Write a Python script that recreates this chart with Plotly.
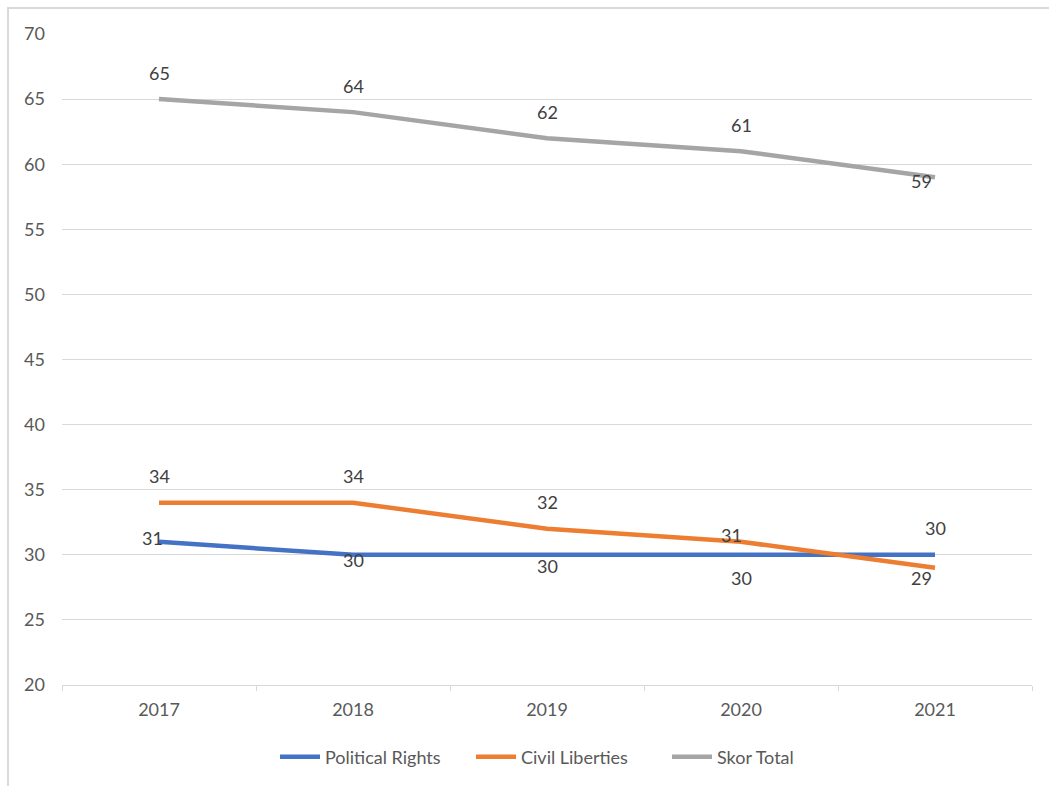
import plotly.graph_objects as go

years = ["2017", "2018", "2019", "2020", "2021"]
political_rights = [31, 30, 30, 30, 30]
civil_liberties = [34, 34, 32, 31, 29]
skor_total = [65, 64, 62, 61, 59]

# label offsets (pixels) per point: (xshift, yshift)
pr_shift = [(-7, 4), (0, -5), (0, -11), (0, -23), (0, 27)]
cl_shift = [(0, 27), (0, 27), (0, 27), (-10, 7), (-14, -10)]
st_shift = [(0, 26), (0, 26), (0, 26), (0, 26), (-14, -4)]

series = [
    ("Political Rights", political_rights, "#4472C4", pr_shift),
    ("Civil Liberties", civil_liberties, "#ED7D31", cl_shift),
    ("Skor Total", skor_total, "#A5A5A5", st_shift),
]

font_family = "Lato, 'Open Sans', sans-serif"
fig = go.Figure()
annotations = []
for name, vals, color, shifts in series:
    fig.add_trace(go.Scatter(
        x=years, y=vals, name=name, mode="lines",
        line=dict(color=color, width=4.5),
    ))
    for i, (v, (dx, dy)) in enumerate(zip(vals, shifts)):
        annotations.append(dict(
            x=i, y=v, xref="x", yref="y", text=str(v), showarrow=False,
            xshift=dx, yshift=dy,
            font=dict(family=font_family, size=18, color="#404040"),
        ))

fig.update_layout(
    width=1049, height=786,
    margin=dict(l=62, r=17, t=34, b=100),
    paper_bgcolor="white", plot_bgcolor="white",
    font=dict(family=font_family, size=18, color="#595959"),
    annotations=annotations,
    showlegend=True,
    legend=dict(orientation="h", x=(275 - 62) / 970, xanchor="left", y=-0.109, yanchor="middle",
                font=dict(size=18, color="#595959"), itemwidth=40,
                entrywidth=141, entrywidthmode="pixels"),
    xaxis=dict(
        type="category", range=[-0.5, 4.5],
        showgrid=False, showline=True, linecolor="#d9d9d9", linewidth=1,
        ticks="outside", tickson="boundaries", ticklen=5, tickcolor="#d9d9d9",
        ticklabelstandoff=8, tickfont=dict(size=18, color="#595959"),
    ),
    yaxis=dict(
        range=[20, 70], dtick=5, showgrid=True, gridcolor="#d9d9d9", gridwidth=1,
        zeroline=False, showline=False, ticks="", ticklabelstandoff=16,
        tickfont=dict(size=18, color="#595959"),
    ),
    shapes=[dict(
        type="rect", xref="paper", yref="paper",
        x0=(8 - 62) / 970, x1=(1070 - 62) / 970,
        y0=(686 - 810) / 652, y1=(686 - 8) / 652,
        line=dict(color="#d9d9d9", width=2), layer="below",
    )],
)

fig.write_html("out.html")
